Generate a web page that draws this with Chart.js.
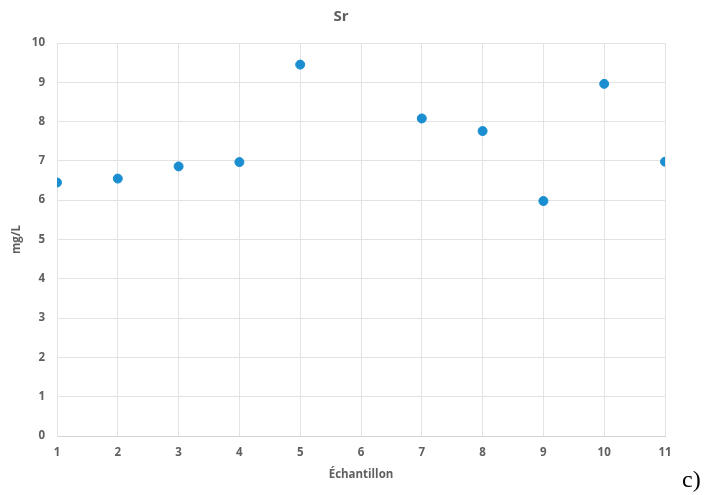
<!DOCTYPE html>
<html>
<head>
<meta charset="utf-8">
<script src="https://cdn.jsdelivr.net/npm/chart.js@4/dist/chart.umd.min.js"></script>
<style>
  html, body { margin: 0; padding: 0; background: #fff; }
  #wrap { width: 709px; height: 495px; position: relative; }
</style>
</head>
<body>
<div id="wrap"><canvas id="c"></canvas></div>
<script>
// Sr concentration per sample (mg/L); sample 6 has no value
const samples = [1, 2, 3, 4, 5, 7, 8, 9, 10, 11];
const sr = [6.45, 6.55, 6.86, 6.97, 9.45, 8.08, 7.76, 5.98, 8.96, 6.98];
const chartTitle = 'Sr';
const xTitle = 'Échantillon';
const yTitle = 'mg/L';
const panelLabel = 'c)';

const font = "'Open Sans', sans-serif";
const grey = '#5f5f5f';

// title + panel letter, drawn as canvas text
const extraText = {
  id: 'extraText',
  afterDraw(chart) {
    const ctx = chart.ctx;
    ctx.save();
    ctx.fillStyle = grey;
    ctx.font = `bold 15px ${font}`;
    ctx.textAlign = 'center';
    ctx.textBaseline = 'middle';
    ctx.fillText(chartTitle, 341, 17);
    ctx.fillStyle = '#000';
    ctx.font = "24px 'Liberation Serif', serif";
    ctx.textAlign = 'left';
    ctx.textBaseline = 'alphabetic';
    ctx.fillText(panelLabel, 682, 487);
    ctx.restore();
  }
};

const tickFont = { family: font, size: 11.5, weight: 'bold' };

new Chart('c', {
  type: 'scatter',
  data: {
    datasets: [{
      data: samples.map((s, i) => ({x: s, y: sr[i]})),
      backgroundColor: '#1a8ed0',
      borderColor: '#1a8ed0',
      pointRadius: 4.5,
      pointHoverRadius: 4.5,
    }]
  },
  options: {
    responsive: true,
    maintainAspectRatio: false,
    animation: false,
    layout: { padding: { top: 43, right: 44, bottom: 0, left: 0 } },
    plugins: {
      legend: { display: false },
      tooltip: { enabled: false },
      title: { display: false },
    },
    scales: {
      x: {
        type: 'linear',
        min: 1,
        max: 11,
        afterFit: s => { s.height = 59; },
        ticks: {
          stepSize: 1,
          padding: 10,
          color: grey,
          font: tickFont,
        },
        grid: { color: '#e3e3e3', drawTicks: false },
        border: { color: '#d4d4d4' },
        title: {
          display: true,
          text: xTitle,
          color: grey,
          font: tickFont,
          padding: { top: 4, bottom: 13 },
        },
      },
      y: {
        min: 0,
        max: 10,
        afterFit: s => { s.width = 57; },
        ticks: {
          stepSize: 1,
          padding: 12,
          color: grey,
          font: tickFont,
        },
        grid: { color: '#e3e3e3', drawTicks: false },
        border: { color: '#e3e3e3' },
        title: {
          display: true,
          text: yTitle,
          color: grey,
          font: tickFont,
          padding: { top: 10, bottom: 0 },
        },
      },
    },
  },
  plugins: [extraText],
});
</script>
</body>
</html>
